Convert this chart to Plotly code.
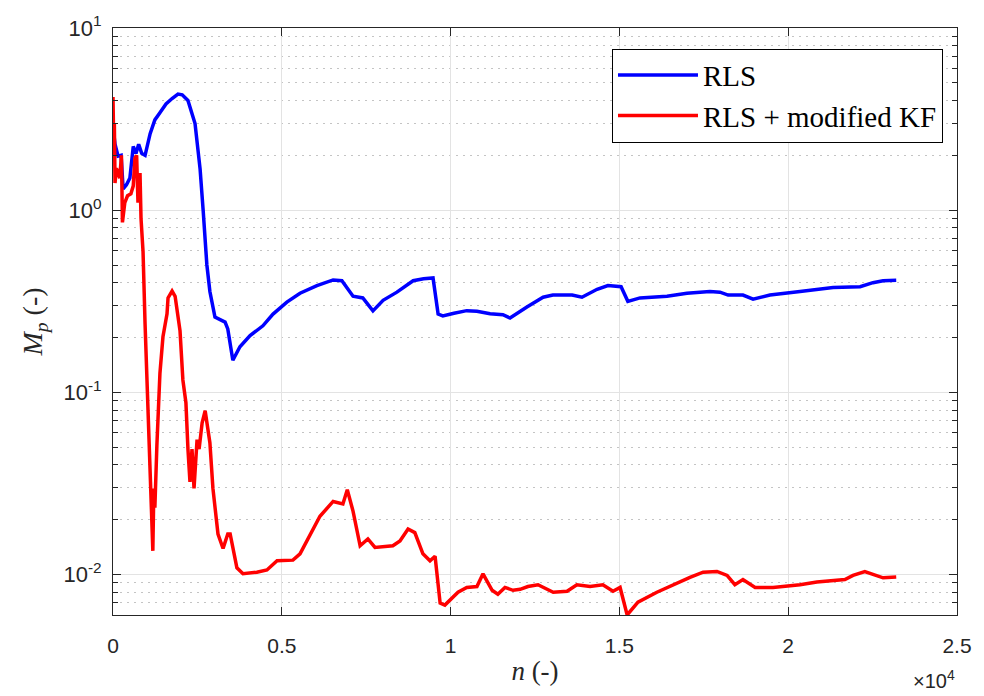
import numpy as np
import plotly.graph_objects as go

# ---- data ----
n_rls = [0, 60, 150, 240, 300, 400, 500, 600, 680, 760, 850, 950, 1100, 1240, 1400, 1570, 1750,
         1925, 2050, 2220, 2430, 2580, 2670, 2750, 2780, 2870, 3020, 3320, 3400, 3550, 3760, 4060,
         4440, 4740, 5150, 5540, 6040, 6520, 6720, 6780, 7110, 7400, 7700, 8000, 8410, 8890, 9200,
         9480, 9630, 9770, 10100, 10480, 10780, 11170, 11550, 11760, 12260, 12740, 13030, 13600,
         13890, 14340, 14660, 15050, 15250, 15610, 16410, 17000, 17680, 17980, 18220, 18660, 18960,
         19460, 20350, 21330, 22130, 22510, 22810, 23200]
m_rls = [2.87, 2.3, 1.98, 2.0, 1.31, 1.38, 1.5, 2.24, 2.05, 2.3, 2.05, 2.0, 2.63, 3.13, 3.45, 3.83, 4.1,
         4.34, 4.3, 4.0, 2.99, 1.68, 1.0, 0.6, 0.502, 0.358, 0.259, 0.243, 0.223, 0.150, 0.178, 0.205,
         0.232, 0.269, 0.313, 0.35, 0.385, 0.414, 0.412, 0.41, 0.337, 0.33, 0.28, 0.32, 0.355, 0.41, 0.42,
         0.425, 0.269, 0.263, 0.272, 0.281, 0.279, 0.27, 0.267, 0.256, 0.294, 0.333, 0.342, 0.342,
         0.333, 0.368, 0.386, 0.38, 0.316, 0.33, 0.337, 0.35, 0.358, 0.355, 0.342, 0.342, 0.325,
         0.342, 0.358, 0.376, 0.38, 0.40, 0.41, 0.412]

n_kf = [0, 20, 40, 60, 100, 160, 200, 250, 280, 350, 430, 530, 600, 650, 700, 740, 800, 830, 890,
        950, 1000, 1040, 1100, 1180, 1210, 1240, 1300, 1330, 1390, 1480, 1600, 1630, 1750, 1840,
        1985, 2070, 2160, 2220, 2280, 2340, 2400, 2490, 2550, 2640, 2730, 2870, 2960, 3110, 3260,
        3400, 3470, 3670, 3850, 4260, 4560, 4860, 5330, 5540, 5840, 6130, 6520, 6810, 6940, 7110,
        7320, 7550, 7760, 8290, 8500, 8740, 8940, 9180, 9390, 9540, 9690, 9830, 10220, 10480,
        10780, 10960, 11230, 11400, 11610, 11850, 12060, 12290, 12590, 13040, 13450, 13740, 14130,
        14510, 14810, 15020, 15230, 15550, 16110, 16590, 17090, 17480, 17890, 18190, 18420, 18660,
        19020, 19550, 20350, 20850, 21680, 21920, 22270, 22810, 23200]
m_kf = [4.18, 2.4, 3.0, 1.41, 1.7, 1.6, 1.5, 2.0, 0.857, 1.1, 1.2, 1.23, 1.36, 1.93, 2.0, 1.1, 1.6,
        0.9, 0.59, 0.237, 0.132, 0.068, 0.0335, 0.0135, 0.0297, 0.0233, 0.0513, 0.068, 0.127, 0.202,
        0.27, 0.33, 0.36, 0.337, 0.218, 0.117, 0.0877, 0.0488, 0.0323, 0.0488, 0.0297, 0.055, 0.0488,
        0.068, 0.0794, 0.053, 0.0297, 0.0167, 0.0139, 0.0167, 0.0167, 0.0109, 0.0101, 0.0103, 0.0106,
        0.0119, 0.012, 0.0130, 0.0167, 0.0209, 0.0252, 0.0244, 0.0292, 0.0223, 0.0144, 0.0157,
        0.0141, 0.0144, 0.0153, 0.0178, 0.017, 0.013, 0.0119, 0.0126, 0.00697, 0.0068, 0.008,
        0.0085, 0.0086, 0.0101, 0.0082, 0.0078, 0.0085, 0.0082, 0.0083, 0.0086, 0.0088, 0.008,
        0.0081, 0.0088, 0.0086, 0.0088, 0.0081, 0.0085, 0.006, 0.00706, 0.008, 0.0088, 0.00964,
        0.0103, 0.0104, 0.0099, 0.0088, 0.0094, 0.0085, 0.0085, 0.0088, 0.0091, 0.0094, 0.0099,
        0.0104, 0.0096, 0.0097]

x_tickvals = [0, 5000, 10000, 15000, 20000, 25000]
x_ticktext = ["0", "0.5", "1", "1.5", "2", "2.5"]
y_tickvals = [0.01, 0.1, 1, 10]
y_ticktext = ["10<sup>-2</sup>", "10<sup>-1</sup>", "10<sup>0</sup>", "10<sup>1</sup>"]
y_minor = [m * d for d in [0.001, 0.01, 0.1, 1] for m in range(2, 10)]

AX = "#262626"
SANS = "Liberation Sans, Arial, sans-serif"
SERIF = "Liberation Serif, Times New Roman, serif"

fig = go.Figure()
fig.add_trace(go.Scatter(x=n_rls, y=m_rls, mode="lines", name="RLS",
                         line=dict(color="#0000ff", width=3.5)))
fig.add_trace(go.Scatter(x=n_kf, y=m_kf, mode="lines", name="RLS + modified KF",
                         line=dict(color="#ff0000", width=3.5)))

fig.update_layout(
    width=984, height=696,
    margin=dict(l=113, r=27, t=20, b=81),
    paper_bgcolor="white", plot_bgcolor="white",
    showlegend=True,
    legend=dict(x=0.9834, y=0.965, xanchor="right", yanchor="top",
                bgcolor="white", bordercolor="#000000", borderwidth=1,
                font=dict(family=SERIF, size=29, color="#000000"),
                tracegroupgap=0, itemwidth=80),
    xaxis=dict(
        range=[0, 25000], tickmode="array", tickvals=x_tickvals, ticktext=x_ticktext,
        ticks="inside", ticklen=8, tickcolor=AX, tickwidth=1,
        showline=True, linecolor=AX, linewidth=1, mirror="ticks",
        showgrid=True, gridcolor="#e3e3e3", gridwidth=1, zeroline=False,
        tickfont=dict(family=SANS, size=21, color=AX), ticklabelstandoff=12,
        title=dict(text="<i>n</i> (-)", font=dict(family=SERIF, size=27, color=AX), standoff=4),
    ),
    yaxis=dict(
        type="log", range=[np.log10(0.006), 1], tickmode="array",
        tickvals=y_tickvals, ticktext=y_ticktext,
        ticks="inside", ticklen=8, tickcolor=AX, tickwidth=1,
        showline=True, linecolor=AX, linewidth=1, mirror="ticks",
        showgrid=True, gridcolor="#e3e3e3", gridwidth=1, zeroline=False,
        tickfont=dict(family=SANS, size=22, color=AX), ticklabelstandoff=6,
        minor=dict(tickmode="array", tickvals=y_minor, ticks="inside", ticklen=5,
                   tickcolor=AX, showgrid=True, gridcolor="#c4c4c4", griddash="2px,5px",
                   gridwidth=1),
        title=dict(text="<i>M</i><sub><i>p</i></sub> (-)",
                   font=dict(family=SERIF, size=28, color=AX), standoff=12),
    ),
)

fig.add_annotation(x=1.0, y=0, xref="paper", yref="paper", xanchor="right", yanchor="middle",
                   yshift=-64, showarrow=False,
                   text="\u00d710<sup>4</sup>", font=dict(family=SANS, size=20, color=AX))

fig.write_html("out.html")
